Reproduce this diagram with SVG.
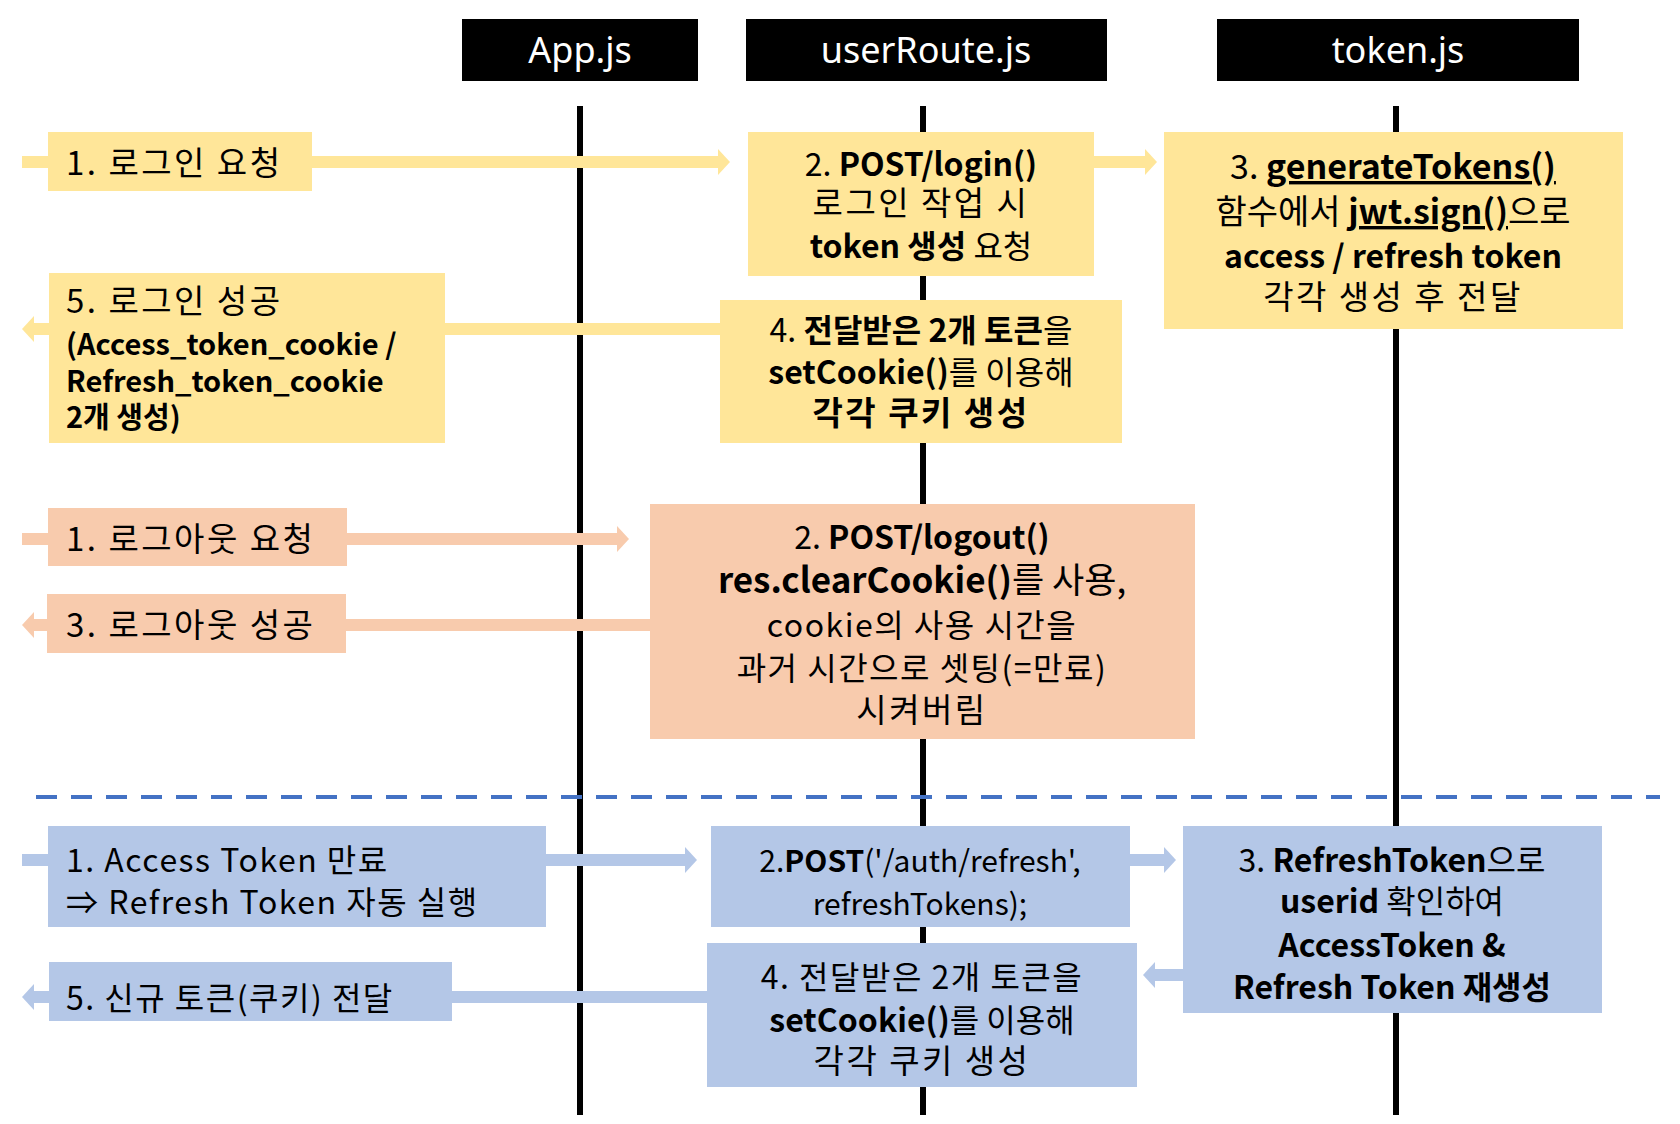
<svg xmlns="http://www.w3.org/2000/svg" width="1680" height="1124" viewBox="0 0 1680 1124">
<style>
text{font-family:"Noto Sans CJK KR","Noto Sans",sans-serif;font-size:32px;fill:#000}
.h{fill:#fff;font-size:36px;text-anchor:middle;font-family:"Noto Sans","Noto Sans CJK KR",sans-serif}
.c{text-anchor:middle}
.b{font-weight:bold}
.k{letter-spacing:2.5px;font-size:33px}
.s{font-size:29px}
.y{fill:#FFE699}.p{fill:#F8CBAD}.u{fill:#B4C7E7}
.ly{stroke:#FFE699;stroke-width:12;fill:none}
.lp{stroke:#F8CBAD;stroke-width:12;fill:none}
.lu{stroke:#B4C7E7;stroke-width:12;fill:none}
.life{stroke:#000;stroke-width:6}
</style>
<defs>
<marker id="ay" markerUnits="userSpaceOnUse" markerWidth="12" markerHeight="26" refX="0" refY="13" orient="auto"><path d="M0,0 L12,13 L0,26 z" fill="#FFE699"/></marker>
<marker id="ap" markerUnits="userSpaceOnUse" markerWidth="12" markerHeight="26" refX="0" refY="13" orient="auto"><path d="M0,0 L12,13 L0,26 z" fill="#F8CBAD"/></marker>
<marker id="au" markerUnits="userSpaceOnUse" markerWidth="12" markerHeight="26" refX="0" refY="13" orient="auto"><path d="M0,0 L12,13 L0,26 z" fill="#B4C7E7"/></marker>
</defs>
<rect width="1680" height="1124" fill="#fff"/>
<g id="headers">
<g id="h-app"><rect x="462" y="19" width="236" height="62" fill="#000"/><text class="h" x="580" y="63">App.js</text></g>
<g id="h-route"><rect x="746" y="19" width="361" height="62" fill="#000"/><text class="h" x="926" y="63">userRoute.js</text></g>
<g id="h-token"><rect x="1217" y="19" width="362" height="62" fill="#000"/><text class="h" x="1398" y="63">token.js</text></g>
</g>
<g id="lifelines">
<line class="life" x1="580" y1="106" x2="580" y2="1115"/>
<line class="life" x1="923" y1="106" x2="923" y2="1115"/>
<line class="life" x1="1396" y1="106" x2="1396" y2="1115"/>
</g>
<line x1="36" y1="797" x2="1660" y2="797" stroke="#4472C4" stroke-width="4" stroke-dasharray="21 14"/>
<g id="connectors">
<line class="ly" x1="22" y1="162" x2="718" y2="162" marker-end="url(#ay)"/>
<line class="ly" x1="1094" y1="162" x2="1145" y2="162" marker-end="url(#ay)"/>
<line class="ly" x1="722" y1="329" x2="34" y2="329" marker-end="url(#ay)"/>
<line class="lp" x1="22" y1="539" x2="617" y2="539" marker-end="url(#ap)"/>
<line class="lp" x1="652" y1="625" x2="34" y2="625" marker-end="url(#ap)"/>
<line class="lu" x1="22" y1="860" x2="685" y2="860" marker-end="url(#au)"/>
<line class="lu" x1="1130" y1="860" x2="1164" y2="860" marker-end="url(#au)"/>
<line class="lu" x1="1185" y1="975" x2="1155" y2="975" marker-end="url(#au)"/>
<line class="lu" x1="709" y1="997" x2="34" y2="997" marker-end="url(#au)"/>
</g>
<g id="n-login-req"><rect class="y" x="48" y="132" width="264" height="59"/><text class="k" x="66" y="175">1. 로그인 요청</text></g>
<g id="n-post-login"><rect class="y" x="748" y="132" width="346" height="144"/>
<text class="c" x="921" y="176">2. <tspan class="b">POST/login()</tspan></text>
<text class="c k" x="921" y="215">로그인 작업 시</text>
<text class="c" x="921" y="258"><tspan class="b">token 생성</tspan> 요청</text></g>
<g id="n-generate"><rect class="y" x="1164" y="132" width="459" height="197"/>
<text class="c" x="1393" y="179" style="font-size:34px">3. <tspan class="b" text-decoration="underline">generateTokens()</tspan></text>
<text class="c" x="1393" y="224" style="font-size:34px">함수에서 <tspan class="b" text-decoration="underline">jwt.sign()</tspan>으로</text>
<text class="c b" x="1393" y="268">access / refresh token</text>
<text class="c k" x="1393" y="309">각각 생성 후 전달</text></g>
<g id="n-login-ok"><rect class="y" x="49" y="273" width="396" height="170"/>
<text class="k" x="66" y="313">5. 로그인 성공</text>
<text class="b s" x="66" y="355">(Access_token_cookie /</text>
<text class="b s" x="66" y="392">Refresh_token_cookie</text>
<text class="b s" x="66" y="428">2개 생성)</text></g>
<g id="n-setcookie"><rect class="y" x="720" y="300" width="402" height="143"/>
<text class="c" x="921" y="342">4. <tspan class="b">전달받은 2개 토큰</tspan>을</text>
<text class="c" x="921" y="384"><tspan class="b">setCookie()</tspan>를 이용해</text>
<text class="c b k" x="921" y="425">각각 쿠키 생성</text></g>
<g id="n-logout-req"><rect class="p" x="48" y="508" width="299" height="58"/><text class="k" x="66" y="551">1. 로그아웃 요청</text></g>
<g id="n-logout"><rect class="p" x="650" y="504" width="545" height="235"/>
<text class="c" x="922" y="549">2. <tspan class="b">POST/logout()</tspan></text>
<text class="c" x="922" y="593" style="font-size:35px"><tspan class="b">res.clearCookie()</tspan>를 사용,</text>
<text class="c" x="922" y="637" style="letter-spacing:1.5px">cookie의 사용 시간을</text>
<text class="c" x="922" y="680" style="letter-spacing:1.5px">과거 시간으로 셋팅(=만료)</text>
<text class="c k" x="922" y="722">시켜버림</text></g>
<g id="n-logout-ok"><rect class="p" x="47" y="594" width="299" height="59"/><text class="k" x="66" y="637">3. 로그아웃 성공</text></g>
<g id="n-expire"><rect class="u" x="48" y="826" width="498" height="101"/>
<text x="66" y="872" style="letter-spacing:1.5px">1. Access Token 만료</text>
<text x="66" y="914" style="letter-spacing:1.5px">⇒ Refresh Token 자동 실행</text></g>
<g id="n-refresh"><rect class="u" x="711" y="826" width="419" height="101"/>
<text class="c" x="920" y="872" style="font-size:30px">2.<tspan class="b">POST</tspan>('/auth/refresh',</text>
<text class="c" x="920" y="915" style="font-size:30px">refreshTokens);</text></g>
<g id="n-regen"><rect class="u" x="1183" y="826" width="419" height="187"/>
<text class="c" x="1392" y="872">3. <tspan class="b">RefreshToken</tspan>으로</text>
<text class="c" x="1392" y="913"><tspan class="b">userid</tspan> 확인하여</text>
<text class="c b" x="1392" y="957">AccessToken &amp;</text>
<text class="c b" x="1392" y="999">Refresh Token 재생성</text></g>
<g id="n-setcookie2"><rect class="u" x="707" y="943" width="430" height="144"/>
<text class="c" x="922" y="989" style="letter-spacing:1.5px">4. 전달받은 2개 토큰을</text>
<text class="c" x="922" y="1032"><tspan class="b">setCookie()</tspan>를 이용해</text>
<text class="c k" x="922" y="1073">각각 쿠키 생성</text></g>
<g id="n-newtoken"><rect class="u" x="49" y="962" width="403" height="59"/><text x="66" y="1010" style="letter-spacing:1.5px">5. 신규 토큰(쿠키) 전달</text></g>
</svg>
